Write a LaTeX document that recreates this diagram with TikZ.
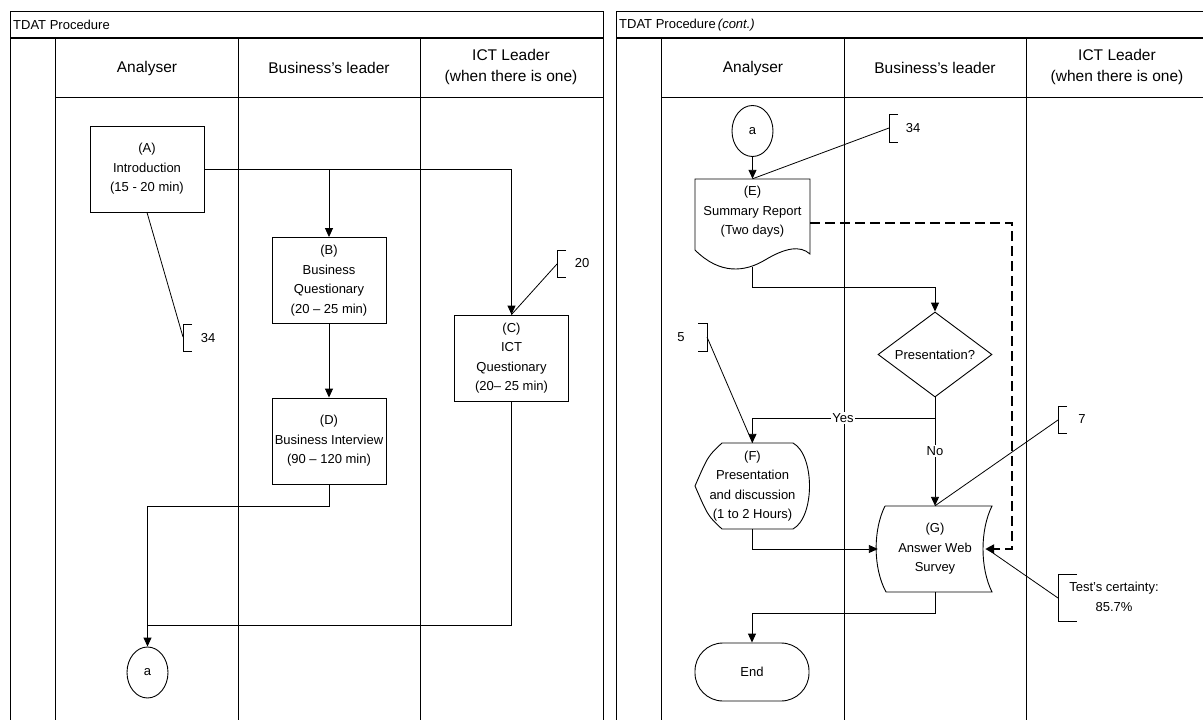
\documentclass[tikz,border=0pt]{standalone}
\usepackage{fontspec}
\setmainfont{Liberation Sans}
\usetikzlibrary{arrows.meta,shapes.geometric,calc}

\tikzset{
  box/.style={draw,line width=0.9pt,minimum width=114pt,minimum height=86pt,align=center,inner sep=0pt},
  plain/.style={minimum width=114pt,minimum height=86pt,align=center,inner sep=0pt},
  onpage/.style={draw,ellipse,line width=0.9pt,minimum width=41pt,minimum height=51pt,inner sep=0pt},
  decide/.style={draw,diamond,aspect=1.34,line width=0.9pt,minimum width=114pt,minimum height=85pt,inner sep=0pt},
  term/.style={draw,rounded corners=28pt,line width=0.9pt,minimum width=114pt,minimum height=58pt},
  flow/.style={-{Triangle[length=9pt,width=8pt]},line width=0.9pt},
  dflow/.style={-{Triangle[length=9pt,width=9pt]},line width=2.5pt,dash pattern=on 10pt off 5pt},
  note/.style={line width=0.8pt},
  lane/.style={font=\fontsize{15.5}{21}\selectfont,align=center},
  tag/.style={inner sep=1pt,fill=white}
}

\begin{document}
\begin{tikzpicture}[x=1pt,y=-1pt,every node/.style={font=\fontsize{13}{19.5}\selectfont}]
  \useasboundingbox (0,0) rectangle (1203,720);

  % swimlane frames
  \foreach \o/\t [count=\i] in {0/{TDAT Procedure},606/{TDAT Procedure\,\textit{(cont.)}}} {
    \draw[line width=0.9pt] (10+\o,720) -- (10+\o,11) -- (603+\o,11);
    \draw[line width=2.2pt] (10+\o,38) -- (603+\o,38);
    \draw[line width=0.9pt] (55+\o,38) -- (55+\o,720) (238+\o,38) -- (238+\o,720)
      (420+\o,38) -- (420+\o,720) (55+\o,97) -- (603+\o,97);
    \node[anchor=west,inner sep=0pt] (title\i) at (13+\o,25) {\t};
    \node[lane] (an\i) at (147+\o,68) {Analyser};
    \node[lane] (bl\i) at (329+\o,68) {Business’s leader};
    \node[lane] (il\i) at (511+\o,67) {ICT Leader\\(when there is one)};
  }
  \draw[line width=0.9pt] (603,11) -- (603,720);

  % first page
  \node[box] (A) at (147,169) {(A)\\Introduction\\(15 - 20 min)};
  \node[box] (B) at (329,280.5) {(B)\\Business\\Questionary\\(20 – 25 min)};
  \node[box] (C) at (511.5,358) {(C)\\ICT\\Questionary\\(20– 25 min)};
  \node[box] (D) at (329,441) {(D)\\Business Interview\\(90 – 120 min)};
  \node[onpage] (a1) at (147.5,672.5) {a};

  \draw[flow] (A.east) -| (C.north);
  \draw[flow] (B.north |- A.east) -- (B.north);
  \draw[flow] (B) -- (D);
  \draw[flow] (D.south) -- ++(0,22) -| (a1.north);
  \draw[line width=0.9pt] (C.south) |- ($(a1.north)+(0,-21)$);

  \draw[note] (192,324) -- (183,324) -- (183,351) -- (192,351);
  \node (n34a) at (208,338) {34};
  \draw[note] (A.south) -- (183,337);
  \draw[note] (566,250) -- (557,250) -- (557,277) -- (566,277);
  \node (n20) at (582,263) {20};
  \draw[note] (557,264) -- (C.north);

  % second page
  \node[onpage] (a2) at (752.5,131) {a};
  \node[plain,minimum width=115pt,minimum height=88pt] (E) at (752.5,223) {};
  \node[align=center,yshift=11pt] (Etxt) at (E) {(E)\\Summary Report\\(Two days)};
  \draw[line width=0.9pt] (695,250) -- (695,179) -- (810,179) -- (810,254)
    .. controls (800,245) and (785,248) .. (765,260)
    .. controls (745,272) and (720,275) .. (695,250);
  \node[decide] (Q) at (935,354.5) {Presentation?};
  \node[plain,minimum width=115pt] (F) at (752.5,486) {(F)\\Presentation\\and discussion\\(1 to 2 Hours)};
  \draw[line width=0.9pt] (722,443) -- (793,443) .. controls (815,455) and (815,517) .. (793,529)
    -- (722,529) .. controls (708,516) .. (695,486) .. controls (708,456) .. (722,443);
  \node[plain] (G) at (935,549) {(G)\\Answer Web\\Survey};
  \draw[line width=0.9pt] (885,506) -- (992,506) .. controls (980,530) and (980,568) .. (992,592)
    -- (886,592) .. controls (873,568) and (873,530) .. (885,506);
  \node[term] (end) at (752,672) {End};

  \draw[flow] (a2) -- (E.north);
  \draw[dflow] (E.east) -| ($(G.east)+(20,0)$) -- ($(G.east)+(-7,0)$);
  \draw[flow] (E.south) -- ++(0,20) -| (Q.north);
  \draw[flow] (Q.south) -- ++(0,21) coordinate (qy) -| (F.north);
  \draw[flow] (qy) -- (G.north);
  \node[tag] (yes) at (843,418) {Yes};
  \node[tag] (no) at (935,451) {No};
  \draw[flow] (F.south) |- (G.west);
  \draw[flow] (G.south) -- ++(0,21) -| (end.north);

  \draw[note] (898,114) -- (889,114) -- (889,142) -- (898,142);
  \node (n34b) at (913,128) {34};
  \draw[note] (889,128) -- (E.north);
  \draw[note] (698,323) -- (707,323) -- (707,351) -- (698,351);
  \node (n5) at (681,337) {5};
  \draw[note] (707,337) -- (F.north);
  \draw[note] (1067,406) -- (1058,406) -- (1058,433) -- (1067,433);
  \node (n7) at (1082,419) {7};
  \draw[note] (1058,420) -- (G.north);
  \draw[note] (1077,574) -- (1058,574) -- (1058,621) -- (1077,621);
  \node[align=center] (cert) at (1114,597) {Test’s certainty:\\85.7\%};
  \draw[note] (1058,598) -- ($(G.east)+(-5,0)$);
\end{tikzpicture}
\end{document}
